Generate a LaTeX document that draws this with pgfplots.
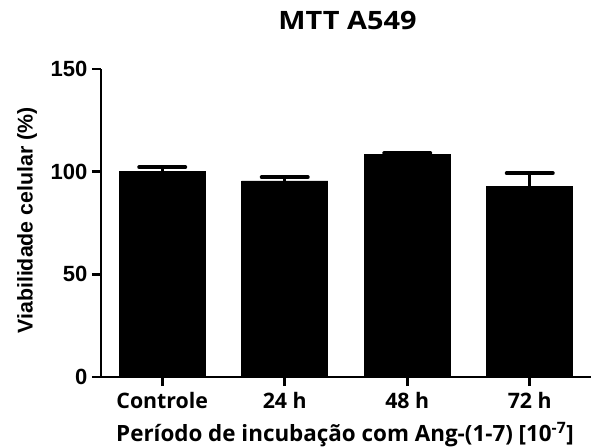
\documentclass[border=0pt]{standalone}
\usepackage{pgfplots}
\pgfplotsset{compat=1.18}
\usepackage{fontspec}
\setmainfont{Open Sans}
\newfontfamily\arialf{Liberation Sans}
\begin{document}
\begin{tikzpicture}
\useasboundingbox (-75.75pt,-52.5pt) rectangle (372pt,282.75pt);
\begin{axis}[
  at={(0pt,0pt)}, anchor=south west,
  scale only axis, width=367.5pt, height=231pt,
  xmin=-0.5, xmax=3.5, ymin=0, ymax=150,
  axis x line=bottom, axis y line=left,
  axis line style={-, line width=2pt},
  tick style={line width=2pt, black},
  major tick length=6.75pt, tick align=outside,
  xtick={0,1,2,3},
  xticklabels={Controle,24 h,48 h,72 h},
  ytick={0,50,100,150},
  /pgf/number format/assume math mode=true,
  xticklabel style={font=\fontsize{16}{18}\selectfont\bfseries, yshift=-1pt},
  yticklabel style={font=\fontsize{16.5}{19}\selectfont\arialf\bfseries, xshift=0pt},
  ybar, bar width=64.5pt,
  clip=false,
]
\addplot[fill=black, draw=black, line width=0.5pt,
  error bars/.cd, y dir=plus, y explicit, error mark=|,
  error bar style={line width=2.25pt, black},
  error mark options={line width=3pt, mark size=17.25pt, black, line cap=round}]
  coordinates {(0,100.3) +- (0,1.9) (1,95.5) +- (0,1.8) (2,108.4) +- (0,0.6) (3,93.0) +- (0,6.2)};
\end{axis}
\node[anchor=base] at (184.9pt,260.25pt) {\scalebox{1.14}[1]{\fontsize{19}{22}\selectfont\bfseries MTT A549}};
\node[anchor=base] at (183pt,-48.5pt) {\fontsize{16.8}{20}\selectfont\bfseries Período de incubação com Ang-(1-7) [10\textsuperscript{-7}]};
\node[rotate=90, anchor=center] at (-55.5pt,117.4pt) {\fontsize{16}{19}\selectfont\arialf\bfseries Viabilidade celular (\%)};
\end{tikzpicture}
\end{document}
